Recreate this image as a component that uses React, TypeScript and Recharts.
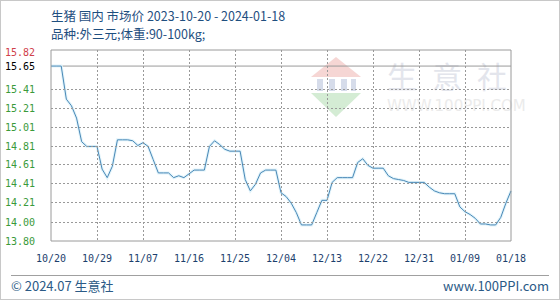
import { LineChart, Line, XAxis, YAxis, ReferenceLine } from "recharts";

// daily price, 2023-10-20 .. 2024-01-18 (yuan/kg)
const prices = [
    15.65, 15.65, 15.65, 15.30, 15.23, 15.10, 14.85, 14.80, 14.80, 14.80,
    14.56, 14.47, 14.59, 14.87, 14.87, 14.87, 14.86, 14.81, 14.84, 14.80,
    14.66, 14.52, 14.52, 14.52, 14.47, 14.49, 14.47, 14.51, 14.55, 14.55,
    14.55, 14.80, 14.86, 14.82, 14.77, 14.75, 14.75, 14.75, 14.45, 14.33,
    14.40, 14.52, 14.55, 14.55, 14.55, 14.31, 14.27, 14.20, 14.10, 13.97,
    13.97, 13.97, 14.10, 14.23, 14.23, 14.42, 14.47, 14.47, 14.47, 14.47,
    14.63, 14.67, 14.60, 14.57, 14.57, 14.57, 14.49, 14.46, 14.45, 14.44,
    14.42, 14.42, 14.42, 14.42, 14.37, 14.33, 14.31, 14.30, 14.30, 14.30,
    14.16, 14.11, 14.08, 14.04, 13.98, 13.98, 13.97, 13.97, 14.05, 14.20,
    14.33,
];

const xTickDays = [0, 9, 18, 27, 36, 45, 54, 63, 72, 81, 90];
const xTickLabels = ["10/20", "10/29", "11/07", "11/16", "11/25", "12/04", "12/13", "12/22", "12/31", "01/09", "01/18"];

const yTicks = [13.8, 14.0, 14.21, 14.41, 14.61, 14.81, 15.01, 15.21, 15.41, 15.65, 15.82];
const pctLabels = ["-11.81%", "-10.52%", "-9.23%", "-7.94%", "-6.66%", "-5.37%", "-4.08%", "-2.79%", "-1.50%", "0.00%", "1.07%"];
const basePrice = 15.65;
const topPrice = 15.82;
const bottomPrice = 13.8;

const data = prices.map((price, day) => ({day, price}));

// plot box (from chart margins and axis sizes)
const W = 560, H = 300;
const M = {top: 49, right: 0, bottom: 40, left: 0};
const axisW = 50, axisH = 20;
const plotLeft = M.left + axisW, plotRight = W - M.right - axisW;
const plotTop = M.top, plotBottom = H - M.bottom - axisH;

const mono = "'DejaVu Sans Mono', monospace";
const cjk = "'Noto Sans CJK SC', 'Noto Sans', sans-serif";
const green = "#3a9a3a";
const gridColor = "#999999";

const tickColor = (v: number) => (v === topPrice ? "#d0404a" : v === basePrice ? "#000" : green);

function LeftTick({y, payload}: any) {
    const v = payload.value;
    const grid = v !== basePrice && v !== topPrice && v !== bottomPrice;
    const gy = Math.round(y) + 0.5;
    return (
        <g>
            {grid && <path d={`M${plotLeft},${gy}H${plotRight}`} stroke={gridColor} strokeWidth={1}
                           strokeDasharray="2 2" shapeRendering="crispEdges" fill="none"/>}
            <text x={4} y={y} dy={v === topPrice ? 6 : 4} fill={tickColor(v)} fontSize={10} fontFamily={mono}>
                {v.toFixed(2)}
            </text>
        </g>
    );
}

function RightTick({y, payload}: any) {
    const v = payload.value;
    return (
        <text x={515} y={y} dy={v === topPrice ? 6 : 4} fill={tickColor(v)} fontSize={10} fontFamily={mono}>
            {pctLabels[yTicks.indexOf(v)]}
        </text>
    );
}

function BottomTick({x, y, payload}: any) {
    const d = payload.value;
    const grid = d !== xTickDays[0] && d !== xTickDays[xTickDays.length - 1];
    const gx = Math.round(x) + 0.5;
    return (
        <g>
            {grid && <path d={`M${gx},${plotTop}V${plotBottom}`} stroke={gridColor} strokeWidth={1}
                           strokeDasharray="2 2" shapeRendering="crispEdges" fill="none"/>}
            <text x={x} y={y} dy="0.71em" textAnchor="middle" fill="#1d3f6e" fontSize={10} fontFamily={mono}>
                {xTickLabels[xTickDays.indexOf(d)]}
            </text>
        </g>
    );
}

function Watermark() {
    return (
        <div style={{position: "absolute", left: 0, top: 0, width: W, height: H}}>
            <svg width={W} height={H} style={{position: "absolute", left: 0, top: 0}}>
                <polygon points="335,56 360,76 310,76" fill="#f6d6d4"/>
                <rect x={316} y={78} width={6} height={12} fill="#d6dcea"/>
                <rect x={328} y={78} width={6} height={12} fill="#d6dcea"/>
                <rect x={340} y={78} width={6} height={12} fill="#d6dcea"/>
                <rect x={350} y={78} width={5} height={12} fill="#d6dcea"/>
                <polygon points="310,92 360,92 335,116" fill="#d4ecd4"/>
            </svg>
            <div style={{position: "absolute", left: 386, top: 52, fontFamily: cjk, fontSize: 30,
                color: "#e3e5ec", letterSpacing: 15, whiteSpace: "nowrap"}}>生意社</div>
            <div style={{position: "absolute", left: 386, top: 96, fontFamily: "'DejaVu Sans', sans-serif",
                fontSize: 15, color: "#ebebeb", whiteSpace: "nowrap"}}>WWW.100PPI.COM</div>
        </div>
    );
}

export default function App() {
    return (
        <div style={{position: "absolute", left: 0, top: 0, width: W, height: H, background: "#fff",
            boxSizing: "border-box", border: "1px solid #c8c8c8", overflow: "hidden"}}>
            <Watermark/>
            <div style={{position: "absolute", left: 0, top: 0}}>
                <LineChart width={W} height={H} data={data} margin={M}>
                    <XAxis type="number" dataKey="day" domain={[0, 90]} ticks={xTickDays} interval={0}
                           height={axisH} tickLine={false} tickMargin={8} axisLine={{stroke: "#9a9a9a"}}
                           tick={<BottomTick/>}/>
                    <YAxis yAxisId="left" width={axisW} domain={[bottomPrice, topPrice]} ticks={yTicks} interval={0}
                           tickLine={false} axisLine={{stroke: "#9a9a9a"}} tick={<LeftTick/>}/>
                    <YAxis yAxisId="right" orientation="right" width={axisW} domain={[bottomPrice, topPrice]}
                           ticks={yTicks} interval={0} tickSize={4} tickLine={{stroke: green}}
                           axisLine={{stroke: "#9a9a9a"}} tick={<RightTick/>}/>
                    <ReferenceLine yAxisId="left" y={basePrice} stroke="#9a9a9a"/>
                    <ReferenceLine yAxisId="left" y={topPrice} stroke="#9a9a9a"/>
                    <Line yAxisId="left" type="linear" dataKey="price" stroke="#e2f4fb" strokeWidth={3}
                          dot={false} activeDot={false} isAnimationActive={false}/>
                    <Line yAxisId="left" type="linear" dataKey="price" stroke="#4a88b6" strokeWidth={1}
                          dot={false} activeDot={false} isAnimationActive={false}/>
                </LineChart>
            </div>
            <div style={{position: "absolute", left: 50, top: 6, fontFamily: cjk, fontSize: 12.5, color: "#1f4f7f",
                whiteSpace: "nowrap", lineHeight: "18px"}}>
                生猪 国内 市场价 2023-10-20 - 2024-01-18
            </div>
            <div style={{position: "absolute", left: 50, top: 24, fontFamily: cjk, fontSize: 12.5, color: "#1f4f7f",
                whiteSpace: "nowrap", lineHeight: "18px"}}>
                品种:外三元;体重:90-100kg;
            </div>
            <div style={{position: "absolute", left: 10, top: 274, width: 538, borderTop: "1px solid #a0a0a0"}}/>
            <div style={{position: "absolute", left: 10, top: 276, fontFamily: cjk, fontSize: 13, color: "#2b5a86",
                whiteSpace: "nowrap", lineHeight: "18px"}}>
                © 2024.07 生意社
            </div>
            <div style={{position: "absolute", right: 10, top: 276, fontFamily: cjk, fontSize: 13, color: "#2b5a86",
                whiteSpace: "nowrap", lineHeight: "18px"}}>
                www.100PPI.com
            </div>
        </div>
    );
}
